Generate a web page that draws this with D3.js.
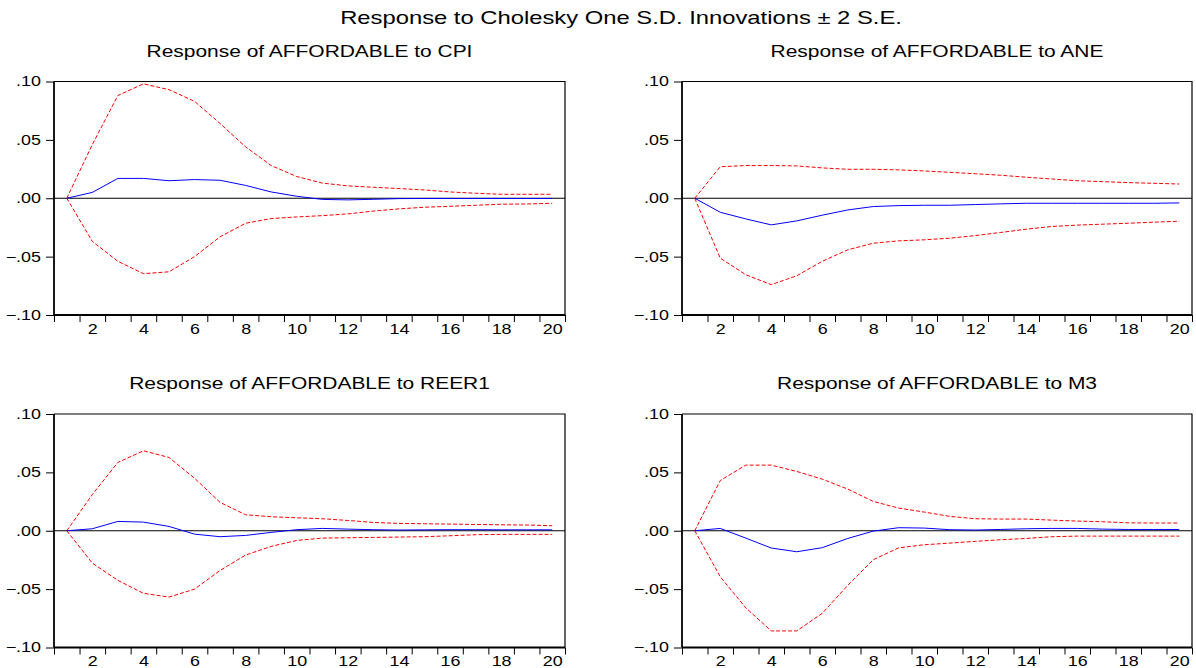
<!DOCTYPE html>
<html>
<head>
<meta charset="utf-8">
<script src="https://cdn.jsdelivr.net/npm/d3@7"></script>
<style>
  html, body { margin: 0; padding: 0; background: #fff; }
  svg { display: block; }
  text { font-family: "Liberation Sans", Arial, sans-serif; fill: #000; }
</style>
</head>
<body>
<svg id="chart" width="1196" height="668"></svg>
<script>
// ---- Data ----
const periods = d3.range(1, 21);
const xTickLabels = [2, 4, 6, 8, 10, 12, 14, 16, 18, 20];
const yTicks = [0.10, 0.05, 0.00, -0.05, -0.10];
const mainTitle = "Response to Cholesky One S.D. Innovations \u00B1 2 S.E.";
const panelTitles = [
  "Response of AFFORDABLE to CPI",
  "Response of AFFORDABLE to ANE",
  "Response of AFFORDABLE to REER1",
  "Response of AFFORDABLE to M3"
];

const cpiResp  = [0, 0.005, 0.017, 0.017, 0.015, 0.016, 0.0154, 0.011, 0.0054, 0.0017, -0.001, -0.0014, -0.0009, -0.0003, -0.0002, -0.0002, -0.0002, -0.0002, -0.0002, -0.0002];
const cpiUpper = [0, 0.046, 0.088, 0.098, 0.093, 0.083, 0.064, 0.044, 0.028, 0.0186, 0.013, 0.0106, 0.0094, 0.0083, 0.0071, 0.0054, 0.0043, 0.0034, 0.0034, 0.0034];
const cpiLower = [0, -0.037, -0.054, -0.0646, -0.063, -0.050, -0.033, -0.0214, -0.0174, -0.016, -0.0149, -0.0134, -0.011, -0.0091, -0.0077, -0.0069, -0.006, -0.0051, -0.0049, -0.0043];

const aneResp  = [0, -0.012, -0.0177, -0.0228, -0.0194, -0.0145, -0.010, -0.0071, -0.0063, -0.006, -0.006, -0.0054, -0.0048, -0.0043, -0.0043, -0.0043, -0.0043, -0.0043, -0.0043, -0.004];
const aneUpper = [0, 0.027, 0.028, 0.028, 0.0277, 0.026, 0.0248, 0.0248, 0.0243, 0.0234, 0.0222, 0.021, 0.0197, 0.018, 0.0165, 0.015, 0.0142, 0.0134, 0.0128, 0.0122];
const aneLower = [0, -0.0513, -0.0655, -0.074, -0.0664, -0.054, -0.0442, -0.0385, -0.0365, -0.0356, -0.0342, -0.032, -0.0293, -0.0265, -0.0242, -0.023, -0.0222, -0.0214, -0.0205, -0.0197];

const reerResp  = [0, 0.0017, 0.008, 0.0074, 0.0037, -0.0029, -0.0051, -0.004, -0.0014, 0.0009, 0.002, 0.0014, 0.0009, 0.0006, 0.0008, 0.0009, 0.0009, 0.0008, 0.0008, 0.0008];
const reerUpper = [0, 0.031, 0.0585, 0.0685, 0.0628, 0.045, 0.0243, 0.0137, 0.012, 0.0111, 0.0103, 0.0088, 0.0071, 0.0063, 0.006, 0.0057, 0.0054, 0.0051, 0.0049, 0.0043];
const reerLower = [0, -0.0277, -0.0425, -0.0536, -0.0568, -0.050, -0.034, -0.0208, -0.0134, -0.0083, -0.0063, -0.006, -0.0057, -0.0054, -0.0051, -0.0043, -0.0034, -0.0031, -0.0031, -0.0031];

const m3Resp  = [0, 0.002, -0.0063, -0.0148, -0.018, -0.0145, -0.0066, -0.0003, 0.0026, 0.0023, 0.0009, 0.0006, 0.0011, 0.0017, 0.002, 0.002, 0.0014, 0.0011, 0.0011, 0.0011];
const m3Upper = [0, 0.043, 0.0562, 0.0562, 0.0508, 0.0442, 0.0357, 0.0251, 0.0194, 0.016, 0.0123, 0.0103, 0.010, 0.010, 0.0091, 0.0083, 0.0077, 0.0068, 0.0066, 0.0066];
const m3Lower = [0, -0.0394, -0.066, -0.0858, -0.0858, -0.0707, -0.0468, -0.0248, -0.0146, -0.012, -0.0106, -0.0091, -0.0077, -0.0066, -0.0051, -0.0046, -0.0046, -0.0046, -0.0046, -0.0046];

const panelData = [
  { resp: cpiResp,  upper: cpiUpper,  lower: cpiLower },
  { resp: aneResp,  upper: aneUpper,  lower: aneLower },
  { resp: reerResp, upper: reerUpper, lower: reerLower },
  { resp: m3Resp,   upper: m3Upper,   lower: m3Lower }
];

// ---- Layout ----
const svg = d3.select("#chart");
const panelBoxes = [
  { x0: 54,  x1: 565,  y0: 81.5, y1: 315 },
  { x0: 682, x1: 1192, y0: 81.5, y1: 315 },
  { x0: 54,  x1: 565,  y0: 414,  y1: 647.5 },
  { x0: 682, x1: 1192, y0: 414,  y1: 647.5 }
];

// horizontally stretch a text element about its anchor point
function stretch(sel, sx) {
  sel.each(function () {
    const t = d3.select(this);
    const x = +t.attr("x") || 0;
    const y = +t.attr("y") || 0;
    t.attr("x", 0).attr("y", 0)
     .attr("transform", `translate(${x},${y}) scale(${sx},1)`);
  });
}

svg.append("text")
  .attr("x", 621).attr("y", 24)
  .attr("text-anchor", "middle")
  .style("font-size", "17.5px")
  .text(mainTitle)
  .call(stretch, 1.36);

const fmt = v => {
  if (Math.abs(v) < 1e-9) return ".00";
  const s = d3.format(".2f")(v);
  return s.replace("0.", ".");
};

panelBoxes.forEach((b, i) => {
  const d = panelData[i];
  const g = svg.append("g");

  const xBand = d3.scaleBand().domain(periods).range([b.x0, b.x1]).padding(0);
  const xc = p => xBand(p) + xBand.bandwidth() / 2;
  const y = d3.scaleLinear().domain([-0.10, 0.10]).range([b.y1, b.y0]);

  // panel title
  g.append("text")
    .attr("x", (b.x0 + b.x1) / 2).attr("y", b.y0 - 25)
    .attr("text-anchor", "middle")
    .style("font-size", "16px")
    .text(panelTitles[i])
    .call(stretch, 1.31);

  // zero line
  g.append("line")
    .attr("x1", b.x0).attr("x2", b.x1)
    .attr("y1", y(0)).attr("y2", y(0))
    .attr("stroke", "#000").attr("stroke-width", 1);

  // border (top and right)
  g.append("path")
    .attr("d", `M${b.x0},${b.y0}H${b.x1}V${b.y1}`)
    .attr("fill", "none").attr("stroke", "#000").attr("stroke-width", 1.2);

  // y axis
  const yAxis = d3.axisLeft(y).tickValues(yTicks).tickFormat(fmt).tickSize(8).tickPadding(5);
  const ya = g.append("g").attr("transform", `translate(${b.x0},0)`).call(yAxis);
  ya.select(".domain").attr("stroke-width", 1.8).attr("d", `M0,${b.y0}V${b.y1}`);
  ya.selectAll(".tick line").attr("stroke-width", 1);
  ya.selectAll(".tick text")
    .style("font-size", "14px")
    .style("font-family", "'Liberation Sans', Arial, sans-serif")
    .call(stretch, 1.28);

  // x axis: tick marks at band boundaries, labels at band centers
  const xLin = d3.scaleLinear().domain([0.5, 20.5]).range([b.x0, b.x1]);
  const bounds = d3.range(0.5, 21, 1);
  const xAxisTicks = d3.axisBottom(xLin).tickValues(bounds).tickFormat("").tickSize(7);
  const xa = g.append("g").attr("transform", `translate(0,${b.y1})`).call(xAxisTicks);
  xa.select(".domain").attr("stroke-width", 1.8).attr("d", `M${b.x0},0H${b.x1}`);
  const xAxisLabels = d3.axisBottom(xLin).tickValues(xTickLabels).tickFormat(d3.format("d")).tickSize(0).tickPadding(9);
  const xl = g.append("g").attr("transform", `translate(0,${b.y1})`).call(xAxisLabels);
  xl.select(".domain").remove();
  xl.selectAll(".tick text")
    .style("font-size", "14px")
    .style("font-family", "'Liberation Sans', Arial, sans-serif")
    .call(stretch, 1.28);

  const line = d3.line().x((v, k) => xc(periods[k])).y(v => y(v));

  g.append("path").datum(d.upper).attr("d", line)
    .attr("fill", "none").attr("stroke", "#ff0000").attr("stroke-width", 1)
    .attr("stroke-dasharray", "4,2");
  g.append("path").datum(d.lower).attr("d", line)
    .attr("fill", "none").attr("stroke", "#ff0000").attr("stroke-width", 1)
    .attr("stroke-dasharray", "4,2");
  g.append("path").datum(d.resp).attr("d", line)
    .attr("fill", "none").attr("stroke", "#0000ff").attr("stroke-width", 1);
});
</script>
</body>
</html>
